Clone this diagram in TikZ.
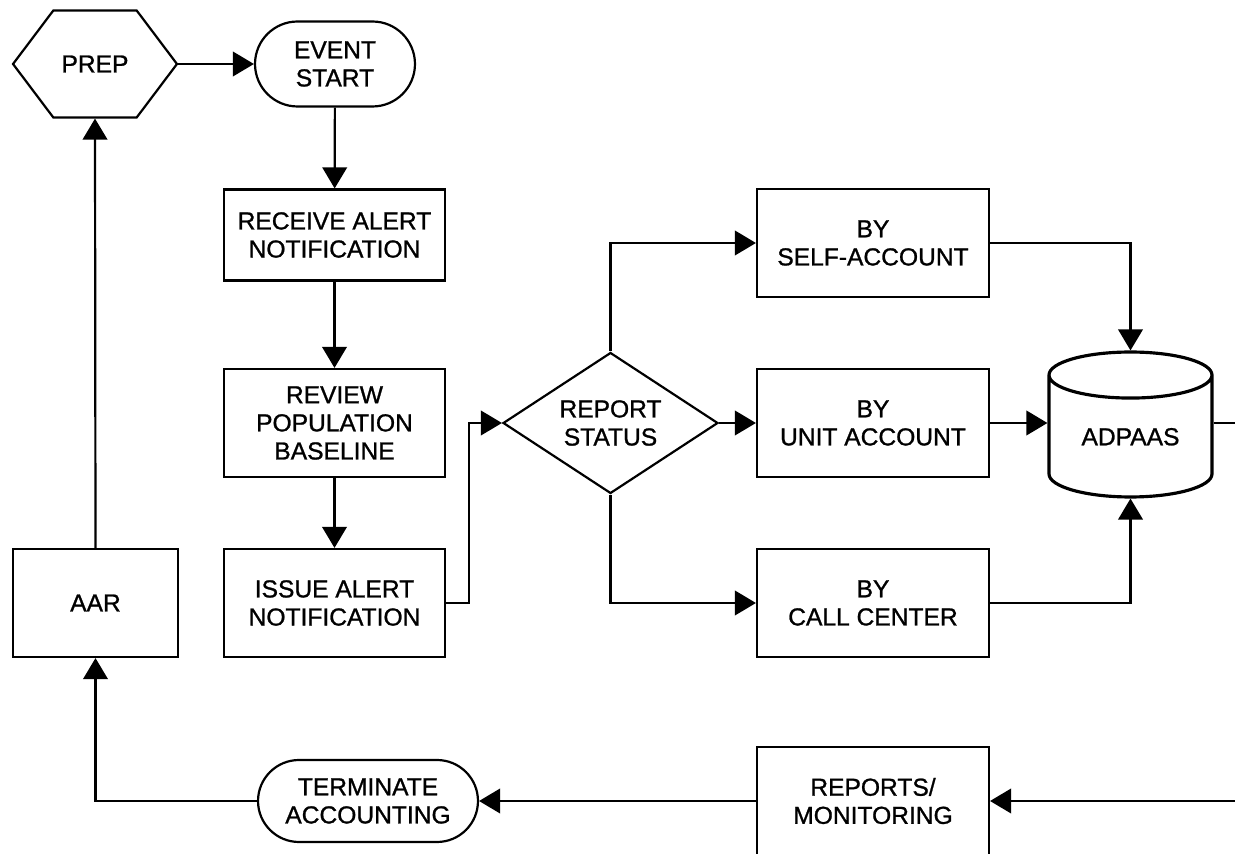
\documentclass[tikz,border=0pt]{standalone}
\usepackage{fontspec}
\setmainfont{Liberation Sans}
\newfontfamily\labelfont{Liberation Sans}[FakeBold=1]
\usetikzlibrary{shapes}
\usetikzlibrary{arrows.meta}

\tikzset{
  flow/.style={draw, line width=1.25pt, inner sep=0pt, align=center,
    font=\labelfont\fontsize{14}{16}\selectfont},
  box/.style={flow, rectangle, minimum width=4.42cm, minimum height=2.16cm},
  widebox/.style={box, minimum width=4.64cm},
  termin/.style={flow, rounded rectangle, minimum height=1.7cm},
  decision/.style={flow, diamond, aspect=1.5, minimum width=4.3cm, minimum height=2.82cm},
  store/.style={flow, cylinder, shape border rotate=90, aspect=0.47, line width=1.8pt,
    minimum width=3.26cm, minimum height=2.9cm},
  prepshape/.style={flow, signal, signal to=east and west, signal pointer angle=106,
    minimum width=3.28cm, minimum height=2.14cm},
  arr/.style={line width=1.25pt, -{Triangle[length=12pt,width=14pt]}},
  link/.style={line width=1.25pt}
}

\begin{document}
\begin{tikzpicture}[x=0.02cm, y=-0.02cm]
  \useasboundingbox (0,0) rectangle (1235,854);

  \node[prepshape] (prep) at (95,64) {PREP};
  \node[termin, minimum width=3.2cm] (event) at (335,64) {EVENT\\START};
  \node[box, minimum height=1.82cm] (receive) at (334.5,235) {RECEIVE ALERT\\NOTIFICATION};
  \node[box] (review) at (334.5,423) {REVIEW\\POPULATION\\BASELINE};
  \node[box] (issue) at (334.5,603) {ISSUE ALERT\\NOTIFICATION};
  \node[box, minimum width=3.3cm] (aar) at (95.5,603) {AAR};

  \node[decision] (status) at (610.5,423) {REPORT\\STATUS};
  \node[widebox] (self) at (873,243) {BY\\SELF-ACCOUNT};
  \node[widebox] (unit) at (873,423) {BY\\UNIT ACCOUNT};
  \node[widebox] (call) at (873,603) {BY\\CALL CENTER};
  \node[store, anchor=shape center] (adpaas) at (1130.5,424.5) {ADPAAS};

  \node[widebox] (reports) at (873,801) {REPORTS/\\MONITORING};
  \node[termin, minimum width=4.4cm, minimum height=1.64cm] (terminate) at (368,801) {TERMINATE\\ACCOUNTING};

  \coordinate (outA) at (1235,423);
  \coordinate (outB) at (1235,801);

  \draw[arr] (prep.east) -- (event.west);
  \draw[arr] (event) -- (receive);
  \draw[arr] (receive) -- (review);
  \draw[arr] (review) -- (issue);
  \draw[arr] (issue.east) -- ++(23,0) |- (status.west);

  \draw[arr] (status.north) |- (self.west);
  \draw[arr] (status.east) -- (unit.west);
  \draw[arr] (status.south) |- (call.west);

  \draw[arr] (self.east) -| (adpaas.north);
  \draw[arr] (unit.east) -- (unit.east -| adpaas.west);
  \draw[arr] (call.east) -| (adpaas.south);
  \draw[link] (outA -| adpaas.east) -- (outA);

  \draw[arr] (outB) -- (reports.east);
  \draw[arr] (reports.west) -- (terminate.east);
  \draw[arr] (terminate.west) -| (aar.south);
  \draw[arr] (aar.north) -- (prep.south);
\end{tikzpicture}
\end{document}
